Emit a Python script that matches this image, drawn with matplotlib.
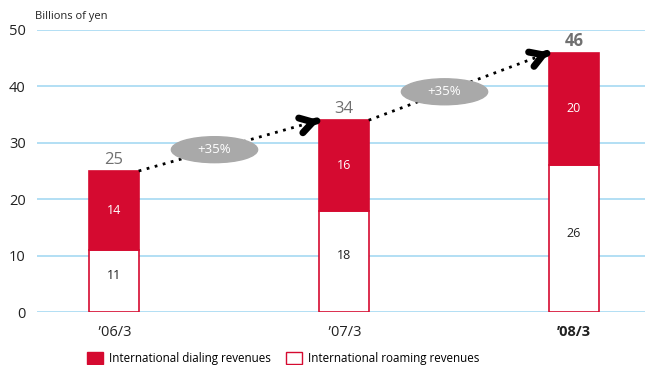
import matplotlib.pyplot as plt
from matplotlib.patches import Ellipse, Patch

plt.rcParams['font.family'] = ['Open Sans', 'DejaVu Sans']

years = ["\u200a\u201906/3", "\u200a\u201907/3", "\u201908/3"]
roaming = [11, 18, 26]
dialing = [14, 16, 20]
totals = [25, 34, 46]
growth = ["+35%", "+35%"]

RED = "#d50a30"
GRID = "#a6d9f2"
GREY = "#a9a9a9"

fig = plt.figure(figsize=(6.47, 3.65), dpi=100)
ax = fig.add_axes([0.057, 0.145, 0.94, 0.773])

x = list(range(len(years)))
w = 0.215
ax.bar(x, roaming, w, color="white", edgecolor=RED, linewidth=1.2, zorder=3)
ax.bar(x, dialing, w, bottom=roaming, color=RED, edgecolor=RED, linewidth=1.2, zorder=3)

for i in x:
    ax.text(i, roaming[i] / 2 + 1, str(roaming[i]), ha="center", va="center", fontsize=9, color="#222222", zorder=4)
    ax.text(i, roaming[i] + dialing[i] / 2, str(dialing[i]), ha="center", va="center", fontsize=9, color="white", zorder=4)
    ax.text(i, totals[i] + 0.5, str(totals[i]), ha="center", va="bottom", fontsize=12,
            color="#707070", fontweight="bold" if i == 2 else "normal", zorder=4)

# dotted growth arrows with chevron heads
for i in range(len(growth)):
    x0, y0 = i + w / 2, totals[i]
    x1, y1 = i + 1 - w / 2, totals[i + 1]
    ax.plot([x0, x1], [y0, y1], ls=(0, (1, 2)), lw=2, color="black", zorder=5)
    ax.annotate("", xy=(x1, y1), xytext=(x1 - 0.01, y1 - (y1 - y0) * 0.01 / (x1 - x0)),
                arrowprops=dict(arrowstyle="->, head_length=0.9, head_width=0.55",
                                lw=5, color="black", shrinkA=0, shrinkB=0,
                                capstyle="round", joinstyle="round"), zorder=6)
    cx = x0 + (x1 - x0) * 0.42
    cy = y0 + (y1 - y0) * 0.42
    ax.add_patch(Ellipse((cx, cy), 0.375, 4.6, color=GREY, zorder=6))
    ax.text(cx, cy, growth[i], ha="center", va="center", fontsize=9.5, color="white", zorder=7)

ax.set_xlim(-0.335, 2.309)
ax.set_ylim(0, 50)
ax.set_yticks(range(0, 51, 10))
ax.yaxis.grid(True, color=GRID, lw=1.2, zorder=0)
ax.set_axisbelow(True)
ax.set_xticks(x)
ax.set_xticklabels(years, fontsize=10.5)
ax.get_xticklabels()[2].set_fontweight("bold")
ax.tick_params(axis="both", length=0, labelsize=10.5, colors="#222222")
ax.tick_params(axis="x", pad=9)
ax.tick_params(axis="y", pad=8)
for s in ax.spines.values():
    s.set_visible(False)

fig.text(0.054, 0.955, "Billions of yen", fontsize=8, color="#222222", va="center")

handles = [Patch(facecolor=RED, edgecolor=RED), Patch(facecolor="white", edgecolor=RED)]
fig.legend(handles, ["International dialing revenues", "International roaming revenues"],
           loc="center left", bbox_to_anchor=(0.118, 0.018), ncol=2, frameon=False,
           fontsize=8.4, handlelength=1.4, handleheight=1.1, handletextpad=0.5, columnspacing=1.3)

fig.savefig("out.png", dpi=100)
